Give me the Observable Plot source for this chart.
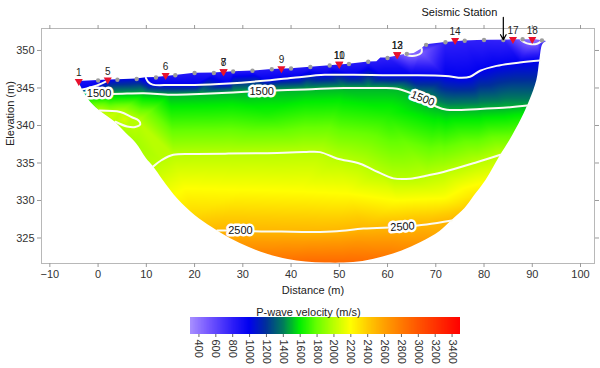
<!DOCTYPE html>
<html><head><meta charset="utf-8">
<script src="https://cdn.jsdelivr.net/npm/d3@7"></script>
<script src="https://cdn.jsdelivr.net/npm/@observablehq/plot@0.6"></script>
<style>
body{margin:0;background:#fff;}
#chart svg{display:block;}
</style></head><body><div id="chart"></div>
<script>
// ---------------- data ----------------
const xTicks = [-10,0,10,20,30,40,50,60,70,80,90,100];
const yTicks = [325,330,335,340,345,350];
const legendTicks = [400,600,800,1000,1200,1400,1600,1800,2000,2200,2400,2600,2800,3000,3200,3400];

// colour bar stops (m/s) and colours
const cbStops  = [300, 500, 800, 1000, 1200, 1400, 1600, 1800, 2000, 2200, 2400, 2600, 2800, 3000, 3200, 3500];
const cbColors = ["#a890ff","#7a5cff","#2e1ef8","#0000f0","#00309a","#007a5c","#00ee00","#66ff00","#b8ff00","#ffff00","#ffcc00","#ffa000","#ff7a00","#ff5500","#ff3300","#ff0000"];

// top surface of the model: distance (m), elevation (m), velocity (m/s)
const surfD = [-4.08,0,2.2,4,8,9.9,12,16,20,24,28,32,36,40,44,48,52,56,57.8,58.6,60,63.6,65.5,67.1,68,72,76,80,84,87.6,89,90.5,92,93.02];
const surfE = [345.87,346.0,346.05,346.1,346.2,346.35,346.4,346.65,346.95,347.0,347.15,347.25,347.45,347.55,347.75,347.95,348.15,348.45,348.5,349.0,349.0,349.45,349.6,350.2,350.75,351.05,351.25,351.35,351.4,351.45,351.5,351.5,351.3,351.2];
const surfV = [900,920,1000,1040,1060,1000,880,860,850,850,850,850,850,850,850,840,840,830,830,820,800,500,440,500,780,800,800,790,780,500,430,420,500,700];

// lower edge of the covered area
const baseD = [-4.08,-3.56,-2.0,0.27,3.37,5.86,7.93,10.0,11.45,13.5,16.6,20.1,23.66,27.4,31.35,35.26,39.4,43.1,47.06,51.0,54.9,59.07,63.0,66.94,70.87,73.35,76.05,77.9,80.4,83.29,85.36,87.83,89.5,90.95,91.57,92.2,93.02];
const baseE = [345.87,345.2,343.47,342.0,340.53,338.93,337.6,335.6,334.53,332.67,330.13,328.0,326.4,324.93,323.73,322.8,322.13,321.8,321.67,321.67,321.87,322.47,323.27,324.4,325.87,327.33,328.93,330.53,332.67,335.87,338.0,340.93,343.33,346.0,348.67,350.8,351.2];
const baseV = [900,960,1650,2000,2000,1960,1950,1980,2000,2100,2230,2360,2470,2580,2680,2760,2830,2880,2890,2890,2870,2810,2730,2640,2540,2500,2390,2300,2180,2000,1850,1640,1420,1200,1000,850,700];

// contour lines [distance, elevation]
const c500a  = [[63.6,349.45],[64.5,349.3],[66,349.35],[67,349.7],[67.1,350.2]];
const c500b  = [[87.6,351.45],[88.3,351.1],[89.5,350.85],[91,350.9],[92,351.3]];
const c1000a = [[-3.3,344.8],[-0.2,345.35],[2.2,346.05]];
const c1000b = [[9.9,346.35],[10.4,345.8],[11.3,345.45],[15,345.4],[20,345.4],[27,345.6],[35,346.0],[41,346.4],[47,346.75],[53,346.75],[59,346.7],[65,346.7],[72,346.6],[75.4,346.35],[77.1,346.5],[79.2,347.3],[82.6,347.95],[87.4,348.4],[91.57,348.67]];
const c1500  = [[-3.2,344.4],[2.5,344.2],[9.5,344.3],[15,344.1],[21,344.2],[28,344.4],[34,344.6],[43,344.8],[51,345.0],[56,345.0],[59,345.0],[62,344.9],[64.5,344.4],[67.3,343.6],[70.2,342.5],[72.3,342.1],[79.2,342.2],[84,342.35],[89,342.65]];
const c2000a = [[0.3,342.0],[4.6,341.8],[7.0,341.1],[8.4,340.67],[8.76,340.2],[7.7,339.8],[6.0,339.87],[3.6,340.5]];
const c2000b = [[11.45,334.55],[13.2,335.4],[15.6,336.1],[20.5,336.2],[27,336.25],[34.3,336.3],[42.6,336.45],[46,336.45],[49.5,335.6],[54.3,334.9],[58,333.8],[61.2,332.95],[64.7,332.9],[68,333.3],[71.6,333.8],[78.5,335.1],[83.4,336.1]];
const c2500  = [[24.7,326.0],[29.5,326.0],[32.2,325.9],[38,325.85],[44.6,325.8],[49.5,325.9],[55,326.25],[63.1,326.5],[68.1,326.8],[73.35,327.33]];

// extra velocity readings inside the section [distance, elevation, velocity]
const interior = [[5.5,340.8,2080],[2.5,341.3,2060],[18,331.6,2200],[30,331.4,2200],[42,331.2,2200],[52,330.9,2200],[62,330.0,2200],[72,330.3,2200],[35,341.5,1650],[60,341.5,1650]];

// contour labels
const contourLabels = [
  {d:0.2, e:344.22, t:"1500", r:0},
  {d:33.9, e:344.57, t:"1500", r:0},
  {d:67.3, e:343.6, t:"1500", r:22},
  {d:29.5, e:326.0, t:"2500", r:0},
  {d:63.1, e:326.5, t:"2500", r:-4}
];

// geophones (grey dots)
const geoD = [0,4,8,12,16,20,24,28,32,36,40,44,48,52,56,60,64,68,72,76,80,84,88,92];
const geoE = [346.0,346.1,346.2,346.4,346.7,347.0,347.0,347.2,347.3,347.5,347.6,347.8,348.0,348.2,348.5,349.0,349.55,350.75,351.1,351.3,351.4,351.4,351.5,351.35];

// shots (red triangles)
const shotLabel = ["1","5","6","7","8","9","10","11","12","13","14","17","18"];
const shotD = [-4,2,14,26,26,38,50,50,62,62,74,86,90];
const shotE = [345.9,346.07,346.7,347.2,347.2,347.6,348.2,348.2,349.44,349.44,351.36,351.5,351.5];

// seismic station
const station = [{d:84, topE:354.4, tipE:351.45, t:"Seismic Station"}];

const xDomain = [-11.73, 102.9];
const yDomain = [321.6, 352.93];

// ---------------- build tables ----------------
const samples = [];
surfD.forEach((d,i) => samples.push({d, e: surfE[i], v: surfV[i]}));
baseD.slice(1,-1).forEach((d,i) => samples.push({d, e: baseE[i+1], v: baseV[i+1]}));
[[c500a,500],[c500b,500],[c1000a,1000],[c1000b,1000],[c1500,1500],[c2000a,2000],[c2000b,2000],[c2500,2500]]
  .forEach(([c,lev]) => c.forEach(([d,e]) => samples.push({d, e, v: lev})));
interior.forEach(([d,e,v]) => samples.push({d, e, v}));

const topEdge = surfD.map((d,i) => ({d, e: surfE[i]}));
const baseEdge = baseD.map((d,i) => ({d, e: baseE[i]}));
const geos = geoD.map((d,i) => ({d, e: geoE[i]}));
const shots = shotD.map((d,i) => ({d, e: shotE[i], t: shotLabel[i]}));
const contours = [c500a,c500b,c1000a,c1000b,c1500,c2000a,c2000b,c2500];
const xStart = baseD[0], xEnd = baseD[baseD.length-1];
const sideMasks = [{a: xDomain[0], b: xStart + 0.05}, {a: xEnd - 0.1, b: xDomain[1]}];

const colorOpts = {type:"linear", domain: cbStops, range: cbColors, interpolate:"rgb", clamp:true};
const font = {fontFamily:"'Liberation Sans', Arial, sans-serif", fontSize:"11px", background:"white", color:"#222"};
const axisStroke = "#9a9a9a";

const mainPlot = Plot.plot({
  width: 600, height: 300,
  marginLeft: 41, marginRight: 6, marginTop: 28, marginBottom: 37,
  x: {domain: xDomain},
  y: {domain: yDomain},
  color: colorOpts,
  style: font,
  marks: [
    Plot.raster(samples, {x:"d", y:"e", fill:"v", interpolate:"barycentric",
      x1: xStart, x2: xEnd, y1: d3.min(baseE), y2: d3.max(surfE)}),
    Plot.areaY(topEdge, {x:"d", y1:"e", y2: yDomain[1], fill:"white"}),
    Plot.areaY(baseEdge, {x:"d", y1: yDomain[0], y2:"e", fill:"white", curve:"catmull-rom"}),
    Plot.rect(sideMasks, {x1:"a", x2:"b", y1: yDomain[0], y2: yDomain[1], fill:"white"}),
    ...contours.map(c => Plot.line(c, {x: p=>p[0], y: p=>p[1], stroke:"#fbfbf4", strokeWidth:2, curve:"catmull-rom"})),
    Plot.text(contourLabels, {x:"d", y:"e", text:"t", rotate:"r", fill:"#111", stroke:"white", strokeWidth:5, fontSize:11}),
    Plot.frame({stroke:"#b8b8b8"}),
    Plot.axisX({anchor:"bottom", ticks:xTicks, tickSize:4, tickPadding:3, stroke:axisStroke, fill:"#333", label:null}),
    Plot.axisX({anchor:"top", ticks:xTicks, tickSize:4, tickFormat:()=>"", stroke:axisStroke, label:null}),
    Plot.axisY({anchor:"left", ticks:yTicks, tickSize:4, tickPadding:3, stroke:axisStroke, fill:"#333", label:null}),
    Plot.axisY({anchor:"right", ticks:yTicks, tickSize:4, tickFormat:()=>"", stroke:axisStroke, label:null}),
    Plot.text(["Distance (m)"], {frameAnchor:"bottom", dy:30, dx:-5, text:d=>d, fill:"#222", fontSize:11}),
    Plot.text(["Elevation (m)"], {frameAnchor:"left", dx:-31, rotate:-90, text:d=>d, fill:"#222", fontSize:11}),
    Plot.dot(geos, {x:"d", y:"e", r:2.2, fill:"#9c9c9c"}),
    Plot.dot(shots, {x:"d", y:"e", symbol:"triangle", rotate:180, r:3, fill:"#e8112d"}),
    Plot.text(shots, {x:"d", y:"e", text:"t", dy:-8.5, fontSize:10, fill:"#222"}),
    Plot.arrow(station, {x1:"d", x2:"d", y1:"topE", y2:"tipE", stroke:"black", strokeWidth:1.2, headLength:7}),
    Plot.text(station, {x:"d", y:"topE", text:"t", dx:-6, dy:-5, textAnchor:"end", fill:"#111", fontSize:11})
  ]
});

const cells = d3.range(300, 3500, 5);
const legendPlot = Plot.plot({
  width: 600, height: 68,
  marginLeft: 190, marginRight: 140, marginTop: 17, marginBottom: 34,
  x: {domain: [300, 3500]},
  y: {domain: [0, 1], axis: null},
  color: colorOpts,
  style: font,
  marks: [
    Plot.rect(cells, {x1: d=>d, x2: d=>d+5, y1:0, y2:1, fill: d=>d+2.5, shapeRendering:"crispEdges"}),
    Plot.axisX({ticks: legendTicks, tickFormat: d => String(d), tickRotate: 90, tickSize: 3, tickPadding: 2, stroke:"#666", fill:"#333", label:null}),
    Plot.text(["P-wave velocity (m/s)"], {frameAnchor:"top", dx:-17, dy:-9, text:d=>d, fill:"#222", fontSize:11})
  ]
});

document.getElementById("chart").append(mainPlot, legendPlot);
</script></body></html>
